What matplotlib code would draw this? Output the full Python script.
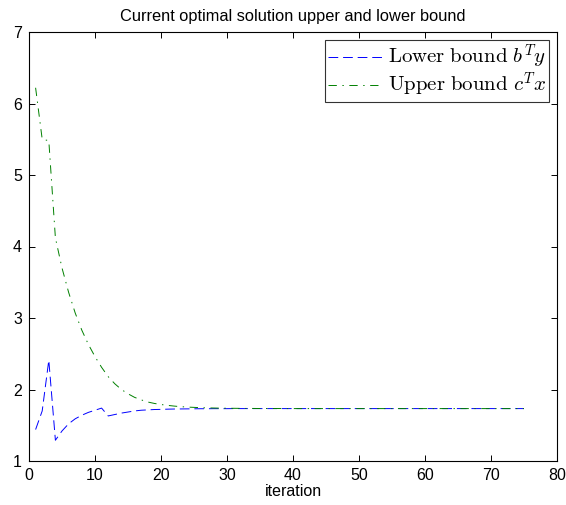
"""Upper and lower bound of the current optimal solution per iteration."""
import matplotlib

matplotlib.use("Agg")
import matplotlib.pyplot as plt

ITERATIONS = list(range(1, 76))

LOWER_BOUND = [
    1.44, 1.70, 2.41, 1.29, 1.42, 1.52, 1.59, 1.64, 1.68, 1.71,
    1.74, 1.63, 1.65, 1.67, 1.685, 1.70, 1.71, 1.715, 1.72, 1.722,
    1.725, 1.727, 1.728, 1.729, 1.730, 1.731, 1.731, 1.732, 1.732, 1.732,
    1.733, 1.733, 1.733, 1.733, 1.733, 1.733, 1.733, 1.733, 1.733, 1.733,
    1.733, 1.733, 1.733, 1.733, 1.733, 1.733, 1.733, 1.733, 1.733, 1.733,
    1.733, 1.733, 1.733, 1.733, 1.733, 1.733, 1.733, 1.733, 1.733, 1.733,
    1.733, 1.733, 1.733, 1.733, 1.733, 1.733, 1.733, 1.733, 1.733, 1.733,
    1.733, 1.733, 1.733, 1.733, 1.733,
]

UPPER_BOUND = [
    6.22, 5.50, 5.48, 4.12, 3.70, 3.36, 3.07, 2.83, 2.63, 2.46,
    2.31, 2.18, 2.08, 2.00, 1.94, 1.89, 1.855, 1.825, 1.805, 1.790,
    1.778, 1.768, 1.760, 1.754, 1.750, 1.746, 1.743, 1.741, 1.739, 1.738,
    1.737, 1.736, 1.735, 1.735, 1.734, 1.734, 1.734, 1.734, 1.733, 1.733,
    1.733, 1.733, 1.733, 1.733, 1.733, 1.733, 1.733, 1.733, 1.733, 1.733,
    1.733, 1.733, 1.733, 1.733, 1.733, 1.733, 1.733, 1.733, 1.733, 1.733,
    1.733, 1.733, 1.733, 1.733, 1.733, 1.733, 1.733, 1.733, 1.733, 1.733,
    1.733, 1.733, 1.733, 1.733, 1.733,
]

X_TICKS = [0, 10, 20, 30, 40, 50, 60, 70, 80]
Y_TICKS = [1, 2, 3, 4, 5, 6, 7]

plt.rcParams.update(
    {
        "font.family": ["Liberation Sans", "DejaVu Sans"],
        "font.size": 11.5,
        "mathtext.fontset": "cm",
        "lines.scale_dashes": False,
        "xtick.direction": "in",
        "ytick.direction": "in",
        "xtick.top": True,
        "ytick.right": True,
    }
)

fig = plt.figure(figsize=(5.66, 5.05), dpi=100)
ax = fig.add_axes([29 / 566, 44 / 505, 528 / 566, 429 / 505])

ax.plot(
    ITERATIONS, LOWER_BOUND, color=(0, 0, 1), linewidth=0.7,
    dashes=(7, 3.5), label=r"$\mathrm{Lower\ bound}\ b^T y$",
)
ax.plot(
    ITERATIONS, UPPER_BOUND, color=(0, 0.5, 0), linewidth=0.7,
    dashes=(6, 4, 1, 4), label=r"$\mathrm{Upper\ bound}\ c^T x$",
)

ax.set_xlim(0, 80)
ax.set_ylim(1, 7)
ax.set_xticks(X_TICKS)
ax.set_yticks(Y_TICKS)
ax.tick_params(length=4, width=0.7, colors="black", pad=5)
for spine in ax.spines.values():
    spine.set_linewidth(0.8)

ax.set_xlabel("iteration", labelpad=1)
ax.set_title("Current optimal solution upper and lower bound", fontsize=11.8, pad=8)

leg = ax.legend(
    loc="upper right", fontsize=15, frameon=True, fancybox=False,
    handlelength=2.6, handletextpad=0.3, borderpad=0.12, labelspacing=0.0,
    borderaxespad=0.4,
)
leg.get_frame().set_edgecolor("black")
leg.get_frame().set_linewidth(0.8)

fig.savefig("out.png", dpi=100)
